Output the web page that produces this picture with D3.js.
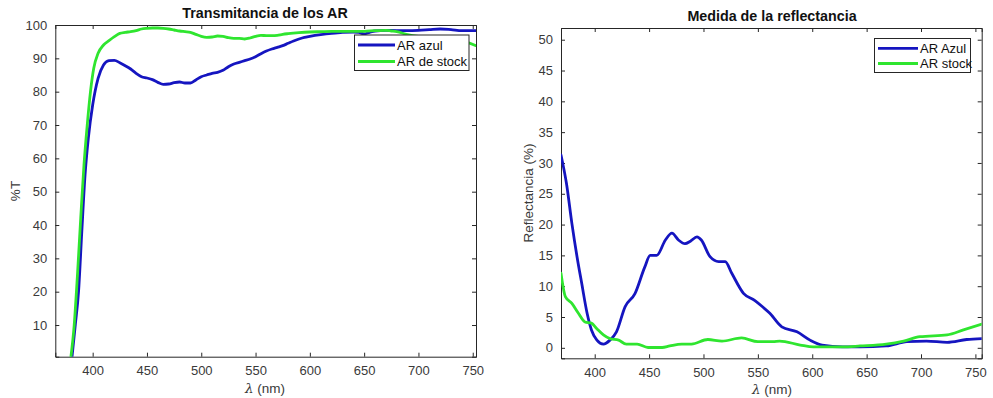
<!DOCTYPE html>
<html><head><meta charset="utf-8">
<script src="https://cdn.jsdelivr.net/npm/d3@7"></script>
<style>body{margin:0;background:#fff}svg{display:block;font-family:"Liberation Sans",Arial,sans-serif}</style>
</head><body>
<svg id="c" width="993" height="398"></svg>
<script>
// ---- Data ----
const tWavelengthAzul = [381,384,387,390,393,396,400,405,410,415,420,425,430,435,440,445,450,455,460,465,470,475,480,485,490,495,500,505,510,515,520,525,530,535,540,545,550,555,560,565,570,575,580,585,590,595,600,610,620,630,640,645,650,655,660,670,680,690,700,710,720,730,740,753];
const tAzul = [0.5,10,20,38,55,66,76,84,88,89.3,89.4,88.7,87.8,86.8,85.5,84.5,84.1,83.6,82.8,82.2,82.3,82.7,82.9,82.6,82.6,83.5,84.5,85,85.5,85.8,86.4,87.5,88.3,88.8,89.3,89.8,90.5,91.4,92.2,92.8,93.3,93.8,94.5,95.2,95.8,96.3,96.6,97.1,97.5,97.8,97.9,97.8,97.3,97.8,98.2,98.4,98.3,98.3,98.4,98.6,98.8,98.6,98.3,98.3];
const tWavelengthStock = [380,383,386,389,392,395,398,401,405,410,415,420,425,430,435,440,445,450,455,460,465,470,475,480,485,490,495,500,505,510,515,520,525,530,535,540,545,550,555,560,565,570,575,580,590,600,610,620,630,640,650,660,670,675,680,690,700,710,720,730,740,745,753];
const tStock = [0.5,10,25,42,58,70,80,87,91.5,94,95.3,96.5,97.5,97.8,98,98.3,98.8,99,99.1,99.1,99,98.8,98.5,98.2,98,97.8,97.2,96.6,96.3,96.4,96.7,96.6,96.2,96,96,95.8,96.1,96.6,96.9,96.8,96.8,96.9,97.2,97.4,97.7,97.9,98,98.1,98.1,98.1,98.1,98.3,98.4,98.2,98,97.1,96.6,96.4,96.4,96.2,95.2,94.8,93.8];

const rWavelengthAzul = [369,374,379,384,388,393,397,402,408,414,420,428,437,446,451,457,465,471,477,483,488,494,498,506,514,520,526,537,547,554,561,572,586,598,609,628,644,668,687,705,724,742,756];
const rAzul = [31.3,26.7,20.2,14.5,10.5,5.6,2.9,1.25,0.6,1.25,2.6,6.7,8.8,13.1,15,15,17.5,18.6,17.5,16.9,17.3,18,17.5,14.8,14,14,12.1,8.8,7.7,6.7,5.6,3.4,2.6,1.25,0.45,0.15,0.15,0.3,1,1.1,0.9,1.35,1.5];
const rWavelengthStock = [369,373,379,385,391,397,402,408,414,422,429,439,449,462,469,480,489,504,517,535,550,564,570,589,601,628,644,668,684,699,724,739,756];
const rStock = [12.1,8.3,7.2,5.6,4.2,4,3.1,2.1,1.5,1.25,0.6,0.6,0.05,0.05,0.3,0.6,0.6,1.35,1.1,1.6,1,1,1.1,0.45,0.15,0.15,0.3,0.6,1.1,1.8,2.1,2.9,3.85];

const xTicks = [400,450,500,550,600,650,700,750];
const tYTicks = [10,20,30,40,50,60,70,80,90,100];
const rYTicks = [0,5,10,15,20,25,30,35,40,45,50];

const BLUE = "#1515c0", GREEN = "#2fe52f", AX = "#262626", TXT = "#3a3a3a";
const svg = d3.select("#c");

function panel(o){
  const x = d3.scaleLinear().domain(o.xd).range([o.l, o.r]);
  const y = d3.scaleLinear().domain(o.yd).range([o.b, o.t]);
  const g = svg.append("g");
  const cid = "clip" + o.id;
  svg.append("clipPath").attr("id", cid).append("rect")
    .attr("x", o.l).attr("y", o.t).attr("width", o.r - o.l).attr("height", o.b - o.t);
  // axes
  const ax = d3.axisBottom(x).tickValues(xTicks).tickSize(-4).tickPadding(9).tickFormat(d3.format("d"));
  const ay = d3.axisLeft(y).tickValues(o.yTicks).tickSize(-4).tickPadding(8).tickFormat(d3.format("d"));
  g.append("g").attr("transform", `translate(0,${o.b})`).call(ax);
  g.append("g").attr("transform", `translate(${o.l},0)`).call(ay);
  g.append("g").attr("transform", `translate(0,${o.t})`).call(d3.axisTop(x).tickValues(xTicks).tickSize(-4).tickFormat(""));
  g.append("g").attr("transform", `translate(${o.r},0)`).call(d3.axisRight(y).tickValues(o.yTicks).tickSize(-4).tickFormat(""));
  g.selectAll(".domain").attr("stroke", AX).attr("stroke-width", 1);
  g.selectAll(".tick line").attr("stroke", AX);
  g.selectAll(".tick text").attr("fill", TXT).style("font-size", "13px").style("font-family", "Liberation Sans, Arial, sans-serif");
  // lines
  const line = d3.line().x(d => x(d[0])).y(d => y(d[1])).curve(d3.curveMonotoneX);
  const lg = g.append("g").attr("clip-path", `url(#${cid})`);
  o.series.forEach(s => {
    lg.append("path").datum(d3.zip(s.x, s.y)).attr("d", line)
      .attr("fill", "none").attr("stroke", s.color).attr("stroke-width", 2.8)
      .attr("stroke-linejoin", "round").attr("stroke-linecap", "round");
  });
  // title
  g.append("text").attr("x", o.tx).attr("y", o.ty).attr("text-anchor", "middle")
    .style("font-weight", "bold").style("font-size", "14.3px").attr("fill", "#111").text(o.title);
  // x label
  const xl = g.append("text").attr("x", o.xlx).attr("y", o.xly).attr("text-anchor", "middle")
    .style("font-size", "13.5px").attr("fill", TXT);
  xl.append("tspan").style("font-style", "italic").style("font-family", "DejaVu Serif, serif").text("λ");
  xl.append("tspan").text(" (nm)");
  // y label
  g.append("text").attr("transform", `translate(${o.ylx},${o.yly}) rotate(-90)`).attr("text-anchor", "middle")
    .attr("dy", "0.35em").style("font-size", "13.5px").attr("fill", TXT).text(o.ylabel);
  // legend
  const L = o.legend;
  g.append("rect").attr("x", L.x0).attr("y", L.y0).attr("width", L.x1 - L.x0).attr("height", L.y1 - L.y0)
    .attr("fill", "#fff").attr("stroke", AX).attr("stroke-width", 1);
  o.series.forEach((s, i) => {
    const yy = L.rows[i];
    g.append("line").attr("x1", L.lx0).attr("x2", L.lx1).attr("y1", yy).attr("y2", yy)
      .attr("stroke", s.color).attr("stroke-width", 2.8);
    g.append("text").attr("x", L.tx).attr("y", yy + 4.5).style("font-size", "13px").attr("fill", "#111").text(s.name);
  });
}

panel({
  id: "T", l: 55.3, r: 476, t: 25, b: 356.7, xd: [365.6, 753], yd: [0.5, 100], yTicks: tYTicks,
  title: "Transmitancia de los AR", tx: 265, ty: 18,
  xlx: 265, xly: 393, ylx: 15, yly: 191, ylabel: "%T",
  series: [
    {name: "AR azul", x: tWavelengthAzul, y: tAzul, color: BLUE},
    {name: "AR de stock", x: tWavelengthStock, y: tStock, color: GREEN}
  ],
  legend: {x0: 354.5, y0: 35, x1: 469, y1: 70.5, lx0: 358, lx1: 395, tx: 397, rows: [45, 61.5]}
});

panel({
  id: "R", l: 561, r: 981.7, t: 28, b: 358.3, xd: [369, 755.8], yd: [-1.7, 51.9], yTicks: rYTicks,
  title: "Medida de la reflectancia", tx: 772, ty: 21,
  xlx: 772, xly: 394, ylx: 528, yly: 193, ylabel: "Reflectancia (%)",
  series: [
    {name: "AR Azul", x: rWavelengthAzul, y: rAzul, color: BLUE},
    {name: "AR stock", x: rWavelengthStock, y: rStock, color: GREEN}
  ],
  legend: {x0: 874.5, y0: 38.5, x1: 970.5, y1: 72.5, lx0: 878, lx1: 918, tx: 920, rows: [48.3, 63.5]}
});
</script>
</body></html>
